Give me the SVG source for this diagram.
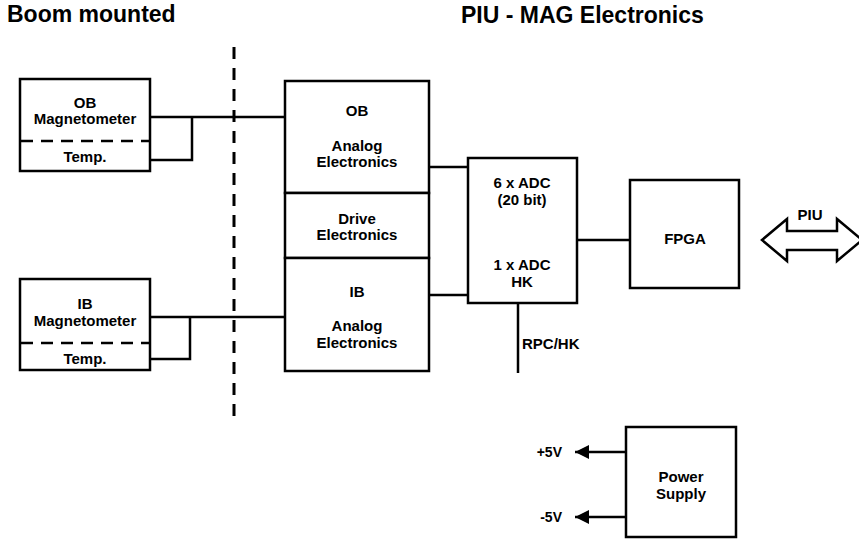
<svg xmlns="http://www.w3.org/2000/svg" width="859" height="539" viewBox="0 0 859 539">
<style>
.box{fill:#fff;stroke:#000;stroke-width:2.5}
.ln{fill:none;stroke:#000;stroke-width:2.5}
.dash{fill:none;stroke:#000;stroke-width:2.5;stroke-dasharray:12 8}
text{font-family:"Liberation Sans",Arial,sans-serif;font-weight:bold;fill:#000}
.t{font-size:15px;text-anchor:middle;dominant-baseline:central}
.h{font-size:23px}
</style>
<defs>
<marker id="ah" markerWidth="14" markerHeight="14" refX="14" refY="7" orient="auto" markerUnits="userSpaceOnUse">
<path d="M0,0 L14,7 L0,14 Z" fill="#000"/>
</marker>
</defs>
<rect width="859" height="539" fill="#fff"/>
<text class="h" x="7" y="22">Boom mounted</text>
<text class="h" x="461" y="23">PIU - MAG Electronics</text>

<g id="connectors">
<path class="dash" d="M234,47 V416" style="stroke-width:3;stroke-dasharray:12 9"/>
<path class="ln" d="M150,117 H285"/>
<path class="ln" d="M150,160 H192 V117"/>
<path class="ln" d="M150,317 H285"/>
<path class="ln" d="M150,359 H190 V317"/>
<path class="ln" d="M429,167 H468"/>
<path class="ln" d="M429,295 H468"/>
<path class="ln" d="M577,240 H630"/>
<path class="ln" d="M518,303 V373"/>
<path class="ln" d="M626,452 H575" marker-end="url(#ah)"/>
<path class="ln" d="M626,517 H575" marker-end="url(#ah)"/>
</g>

<g id="ob-mag">
<rect class="box" x="20" y="79" width="130" height="92"/>
<path class="dash" d="M21,141 H149"/>
<text class="t" x="85" y="102">OB</text>
<text class="t" x="85" y="118">Magnetometer</text>
<text class="t" x="85" y="156">Temp.</text>
</g>

<g id="ib-mag">
<rect class="box" x="20" y="279" width="130" height="91"/>
<path class="dash" d="M21,343 H149"/>
<text class="t" x="85" y="303">IB</text>
<text class="t" x="85" y="320">Magnetometer</text>
<text class="t" x="85" y="358">Temp.</text>
</g>

<g id="ob-analog">
<rect class="box" x="285" y="81" width="144" height="112"/>
<text class="t" x="357" y="110">OB</text>
<text class="t" x="357" y="145">Analog</text>
<text class="t" x="357" y="161">Electronics</text>
</g>

<g id="drive">
<rect class="box" x="285" y="193" width="144" height="65"/>
<text class="t" x="357" y="218">Drive</text>
<text class="t" x="357" y="234">Electronics</text>
</g>

<g id="ib-analog">
<rect class="box" x="285" y="258" width="144" height="113"/>
<text class="t" x="357" y="291">IB</text>
<text class="t" x="357" y="325">Analog</text>
<text class="t" x="357" y="342">Electronics</text>
</g>

<g id="adc">
<rect class="box" x="468" y="158" width="109" height="145"/>
<text class="t" x="522" y="182">6 x ADC</text>
<text class="t" x="522" y="199">(20 bit)</text>
<text class="t" x="522" y="264">1 x ADC</text>
<text class="t" x="522" y="281">HK</text>
</g>
<text class="t" x="522" y="343" style="text-anchor:start">RPC/HK</text>

<g id="fpga">
<rect class="box" x="630" y="180" width="109" height="108"/>
<text class="t" x="685" y="238">FPGA</text>
</g>

<g id="piu">
<path class="ln" d="M762,240 L787,219 V231 H837 V219 L862,240 L837,261 V250 H787 V261 Z" style="fill:#fff"/>
<text class="t" x="810" y="214">PIU</text>
</g>

<g id="power">
<rect class="box" x="626" y="427" width="110" height="110"/>
<text class="t" x="681" y="476">Power</text>
<text class="t" x="681" y="493">Supply</text>
</g>
<text class="t" x="562" y="452" style="text-anchor:end;font-size:14px">+5V</text>
<text class="t" x="562" y="517" style="text-anchor:end;font-size:14px">-5V</text>
</svg>
